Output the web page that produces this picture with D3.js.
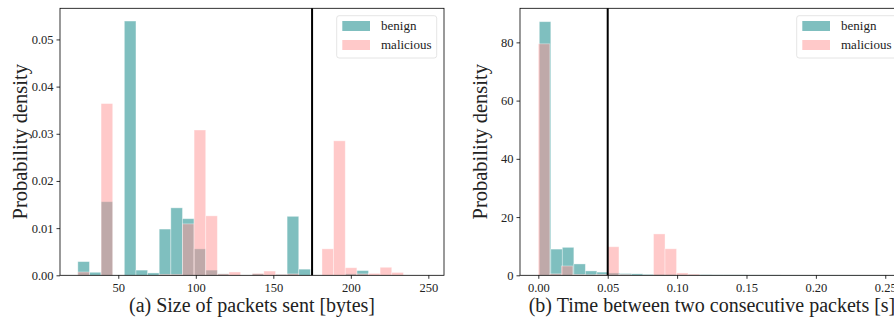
<!DOCTYPE html>
<html>
<head>
<meta charset="utf-8">
<script src="https://cdn.jsdelivr.net/npm/d3@7"></script>
<style>
  body { margin: 0; background: #fff; }
  svg { display: block; }
  .tick text { font-family: "Liberation Serif", serif; font-size: 12.5px; fill: #222; }
  .tick line { stroke: #000; stroke-width: 0.8; }
  .domain { display: none; }
</style>
</head>
<body>
<div id="chart"></div>
<script>
// (a) packet size histogram, bins of 7.5 bytes starting at 23.9
const sizeBinStart = 23.9;
const sizeBinWidth = 7.5;
const sizeBenign = [0.0029, 0.00064, 0.0156, 0, 0.0539, 0.0011, 0.0005, 0.0098, 0.0143, 0.0120,
  0.0056, 0.0011, 0.0003, 0, 0, 0.0003, 0, 0.0002, 0.0125, 0.0013,
  0, 0, 0, 0.0003, 0.0010, 0, 0, 0];
const sizeMalicious = [0.0007, 0, 0.0364, 0, 0, 0, 0, 0.0002, 0.0002, 0.0109,
  0.0308, 0.0126, 0.0003, 0.0007, 0, 0.0004, 0.0009, 0.0002, 0.0003, 0,
  0, 0.0056, 0.0285, 0.0016, 0.0003, 0.0004, 0.0017, 0.0006];
const sizeTicksX = [50, 100, 150, 200, 250];
const sizeTicksY = [0, 0.01, 0.02, 0.03, 0.04, 0.05];
const sizeThreshold = 175;

// (b) inter-packet time histogram
const timeBenignStart = 0.0007;
const timeMaliciousStart = 0.0;
const timeBinWidth = 0.0083;
const timeBenign = [87.1, 9.0, 9.6, 3.9, 1.5, 1.1, 0.8, 0.6, 0.5, 0.3,
  0.3, 0.25, 0.2, 0.2, 0.2, 0.15, 0.15, 0.15, 0.12, 0.12,
  0.12, 0.1, 0.1, 0.1, 0.1, 0.1, 0.1, 0.1, 0.08, 0.08,
  0.08, 0.08, 0.08, 0.08, 0.08, 0.08];
const timeMalicious = [79.5, 0.5, 3.2, 0.3, 0.2, 0.3, 9.8, 0.3, 0, 0,
  14.2, 9.1, 0.8, 0.4];
const timeTicksX = [0, 0.05, 0.10, 0.15, 0.20, 0.25];
const timeTicksY = [0, 20, 40, 60, 80];
const timeThreshold = 0.05;

const seriesNames = ['benign', 'malicious'];
const colors = { benign: 'rgba(0,128,128,0.5)', malicious: 'rgba(255,148,148,0.5)' };

const svg = d3.select('#chart')
  .append('svg')
  .attr('width', 894)
  .attr('height', 321);

function panel( opts ) {
  const g = svg.append('g');
  const x = d3.scaleLinear().domain(opts.xDomain).range([opts.left, opts.right]);
  const y = d3.scaleLinear().domain(opts.yDomain).range([275.3, 8.3]);

  const drawBars = ( values, start, width, name ) => {
    g.append('g')
      .selectAll('rect')
      .data(values)
      .enter()
      .append('rect')
      .attr('x', (d, i) => x(start + i * width))
      .attr('width', (d, i) => x(start + (i + 1) * width) - x(start + i * width))
      .attr('y', d => y(d))
      .attr('height', d => y(0) - y(d))
      .attr('fill', colors[name])
      .attr('stroke', d => d > 0 ? 'rgba(255,255,255,0.45)' : 'none')
      .attr('stroke-width', 0.8);
  };
  drawBars(opts.benign, opts.benignStart, opts.width, 'benign');
  drawBars(opts.malicious, opts.maliciousStart, opts.width, 'malicious');

  // threshold line
  g.append('line')
    .attr('x1', x(opts.threshold)).attr('x2', x(opts.threshold))
    .attr('y1', y.range()[0]).attr('y2', y.range()[1])
    .attr('stroke', '#000')
    .attr('stroke-width', 2);

  // spines
  g.append('rect')
    .attr('x', opts.left).attr('y', 8.3)
    .attr('width', opts.right - opts.left).attr('height', 267)
    .attr('fill', 'none')
    .attr('stroke', '#000')
    .attr('stroke-width', 0.8);

  g.append('g')
    .attr('transform', `translate(0, ${y.range()[0]})`)
    .call(d3.axisBottom(x).tickValues(opts.xTicks).tickFormat(opts.xFormat).tickSize(3.5).tickPadding(4));

  g.append('g')
    .attr('transform', `translate(${opts.left}, 0)`)
    .call(d3.axisLeft(y).tickValues(opts.yTicks).tickFormat(opts.yFormat).tickSize(3.5).tickPadding(3));

  // axis titles
  g.append('text')
    .attr('x', (opts.left + opts.right) / 2)
    .attr('y', 312)
    .attr('text-anchor', 'middle')
    .attr('font-family', 'Liberation Serif, serif')
    .attr('font-size', 20)
    .attr('fill', '#222')
    .text(opts.xLabel);

  g.append('text')
    .attr('transform', `translate(${opts.left - 33}, 141.8) rotate(-90)`)
    .attr('text-anchor', 'middle')
    .attr('font-family', 'Liberation Serif, serif')
    .attr('font-size', 20.5)
    .attr('fill', '#222')
    .text('Probability density');

  // legend
  const lx = opts.right - 107.3;
  const legend = g.append('g').attr('transform', `translate(${lx}, 15.7)`);
  legend.append('rect')
    .attr('width', 100).attr('height', 42.3)
    .attr('rx', 2.5)
    .attr('fill', 'rgba(255,255,255,0.8)')
    .attr('stroke', '#ddd')
    .attr('stroke-width', 0.8);
  seriesNames.forEach((name, i) => {
    legend.append('rect')
      .attr('x', 5.6).attr('y', 5.3 + i * 19)
      .attr('width', 27.7).attr('height', 10)
      .attr('fill', colors[name]);
    legend.append('text')
      .attr('x', 44.3).attr('y', 14.6 + i * 19)
      .attr('font-family', 'Liberation Serif, serif')
      .attr('font-size', 13)
      .attr('fill', '#222')
      .text(name);
  });
}

panel({
  left: 60, right: 444,
  xDomain: [12.4, 260.1], yDomain: [0, 0.0566],
  benign: sizeBenign, malicious: sizeMalicious,
  benignStart: sizeBinStart, maliciousStart: sizeBinStart, width: sizeBinWidth,
  threshold: sizeThreshold,
  xTicks: sizeTicksX, yTicks: sizeTicksY,
  xFormat: d3.format('d'), yFormat: d3.format('.2f'),
  xLabel: '(a) Size of packets sent [bytes]'
});

panel({
  left: 520, right: 904,
  xDomain: [-0.0132, 0.2635], yDomain: [0, 91.7],
  benign: timeBenign, malicious: timeMalicious,
  benignStart: timeBenignStart, maliciousStart: timeMaliciousStart, width: timeBinWidth,
  threshold: timeThreshold,
  xTicks: timeTicksX, yTicks: timeTicksY,
  xFormat: d3.format('.2f'), yFormat: d3.format('d'),
  xLabel: '(b) Time between two consecutive packets [s]'
});
</script>
</body>
</html>
